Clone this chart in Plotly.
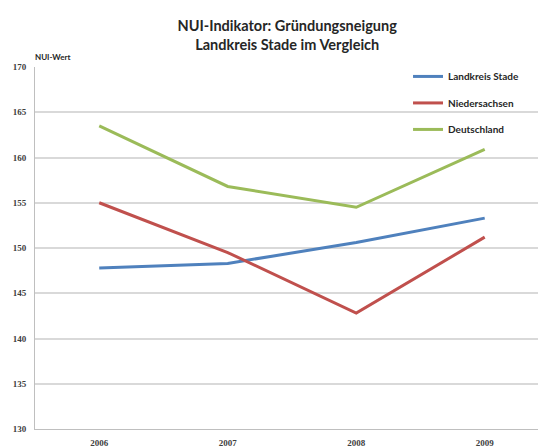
"""
NUI-Indikator: Gründungsneigung - Landkreis Stade im Vergleich

Line chart of NUI values 2006-2009 for Landkreis Stade, Niedersachsen and Deutschland.
"""

import plotly.graph_objects as go

years = ['2006', '2007', '2008', '2009']
stade = [147.8, 148.3, 150.6, 153.3]
niedersachsen = [155.0, 149.5, 142.8, 151.2]
deutschland = [163.5, 156.8, 154.5, 160.9]

series = [
    ('Landkreis Stade', stade, '#4F81BD'),
    ('Niedersachsen', niedersachsen, '#C0504D'),
    ('Deutschland', deutschland, '#9BBB59'),
]

fig = go.Figure()
for name, values, color in series:
    fig.add_trace(go.Scatter(
        x=years, y=values, name=name, mode='lines',
        legendgroup=name,
        line=dict(color=color, width=3),
    ))

axis_font = dict(family='Liberation Serif', size=9, color='#404040', weight='bold')

# page has an 8px body margin, so the figure is 8px smaller than the window
fig.update_layout(
    width=538,
    height=440,
    margin=dict(l=27, r=0, t=59, b=19),
    paper_bgcolor='white',
    plot_bgcolor='white',
    font=dict(family='Lato', color='#262626'),
    title=dict(
        text='NUI-Indikator: Gründungsneigung<br>Landkreis Stade im Vergleich',
        font=dict(family='Lato', size=14.5, weight='bold', color='#262626'),
        x=0.519, xanchor='center', xref='container',
        y=0.948, yanchor='top', yref='container',
    ),
    showlegend=True,
    legend=dict(
        x=0.73, xanchor='left', y=1.014, yanchor='top',
        bgcolor='rgba(0,0,0,0)',
        font=dict(family='Lato', size=10, weight='bold', color='#262626'),
        traceorder='grouped', tracegroupgap=7.5,
        itemwidth=30,
    ),
    annotations=[dict(
        text='NUI-Wert', xref='paper', yref='paper',
        x=-0.004, y=1.028, xanchor='left', yanchor='middle',
        showarrow=False,
        font=dict(family='Lato', size=8, weight='bold', color='#262626'),
    )],
)

fig.update_xaxes(
    type='category',
    range=[-0.5, 3.477],
    showgrid=False,
    showline=True, linecolor='#BFBFBF', linewidth=1,
    ticks='', tickfont=axis_font,
    ticklabelstandoff=5,
)
fig.update_yaxes(
    range=[130, 170],
    dtick=5,
    showgrid=True, gridcolor='#D9D9D9', gridwidth=1.5,
    showline=True, linecolor='#BFBFBF', linewidth=1,
    zeroline=False,
    ticks='', tickfont=axis_font,
    ticklabelstandoff=6,
)

fig.write_html('out.html')
